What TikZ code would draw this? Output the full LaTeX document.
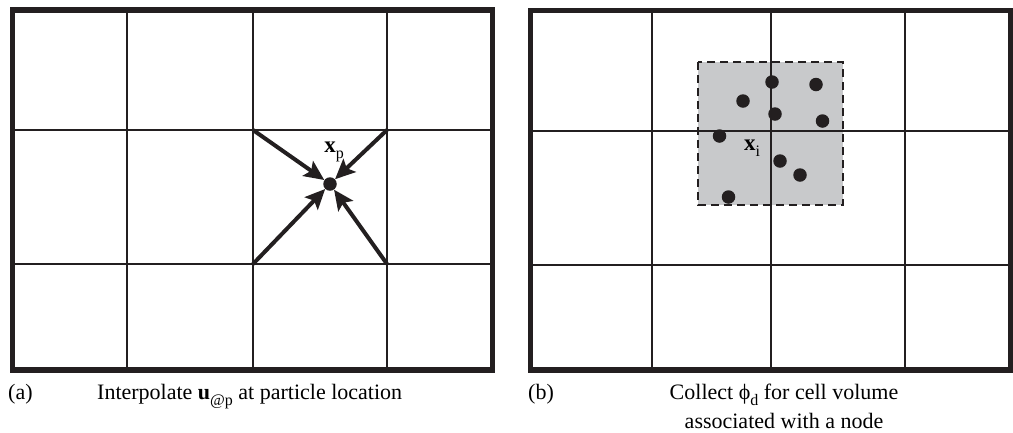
\documentclass[tikz,border=0pt]{standalone}
\usepackage{fontspec}
\setmainfont{Liberation Serif}
\usetikzlibrary{arrows.meta}
\definecolor{ink}{HTML}{231F20}
\definecolor{cellgray}{HTML}{C8C9CB}
\newcommand{\lowsub}[1]{\raisebox{-0.28em}{\fontsize{16}{16}\selectfont #1}}
\begin{document}
\begin{tikzpicture}[x=1pt,y=-1pt,
  frame/.style={draw=ink,line width=5.5pt},
  gridline/.style={draw=ink,line width=2pt},
  particle/.style={circle,fill=ink,inner sep=0pt,minimum size=13.5pt},
  pull/.style={draw=ink,line width=4pt,-{Stealth[length=20pt,width=18pt,inset=4pt]}},
  label/.style={font=\fontsize{23}{26}\selectfont,inner sep=0pt},
  caption/.style={font=\fontsize{22}{31}\selectfont,inner sep=0pt,anchor=base}]
\useasboundingbox (0,0) rectangle (1013,432);

% ---------- panel (a): interpolation to the particle ----------
\foreach \x in {127,253,387} \draw[gridline] (\x,10) -- (\x,370);
\foreach \y in {130,264} \draw[gridline] (12.5,\y) -- (492.5,\y);
\draw[frame] (12.5,10) rectangle (492.5,370);

\coordinate (nw) at (253,130);
\coordinate (ne) at (387,130);
\coordinate (sw) at (253,264);
\coordinate (se) at (387,264);
\node[particle] (xp) at (330,184) {};
\foreach \c in {nw,ne,sw,se} \draw[pull] (\c) -- (xp);
\node[label] (xplab) at (334,152) {\textbf{x}\lowsub{p}};

\node[caption,anchor=base west] (capa) at (8,399) {(a)};
\node[caption,anchor=base west] (capatext) at (97,399)
  {Interpolate \textbf{u}\lowsub{@p} at particle location};

% ---------- panel (b): collection over the node's cell volume ----------
\fill[cellgray] (698,62) rectangle (843,205);
\foreach \x in {652,771,905} \draw[gridline] (\x,10.5) -- (\x,370);
\foreach \y in {130.5,264.5} \draw[gridline] (530.5,\y) -- (1010.5,\y);
\draw[ink,line width=2pt,dash pattern=on 8pt off 5pt] (698,62) rectangle (843,205);
\draw[frame] (530.5,10.5) rectangle (1010.5,370);

\foreach \px/\py [count=\i] in {772/82,816/84.5,743/101,775/114,822.5/121,719.5/136,780/161,800/175,728.5/197}
  \node[particle] (d\i) at (\px,\py) {};
\node[label] (xilab) at (752,148) {\textbf{x}\lowsub{i}};

\node[caption,anchor=base west] (capb) at (528,399) {(b)};
\node[caption] (capbtext1) at (784,399) {Collect ϕ\lowsub{d} for cell volume};
\node[caption] (capbtext2) at (784,428) {associated with a node};
\end{tikzpicture}
\end{document}
